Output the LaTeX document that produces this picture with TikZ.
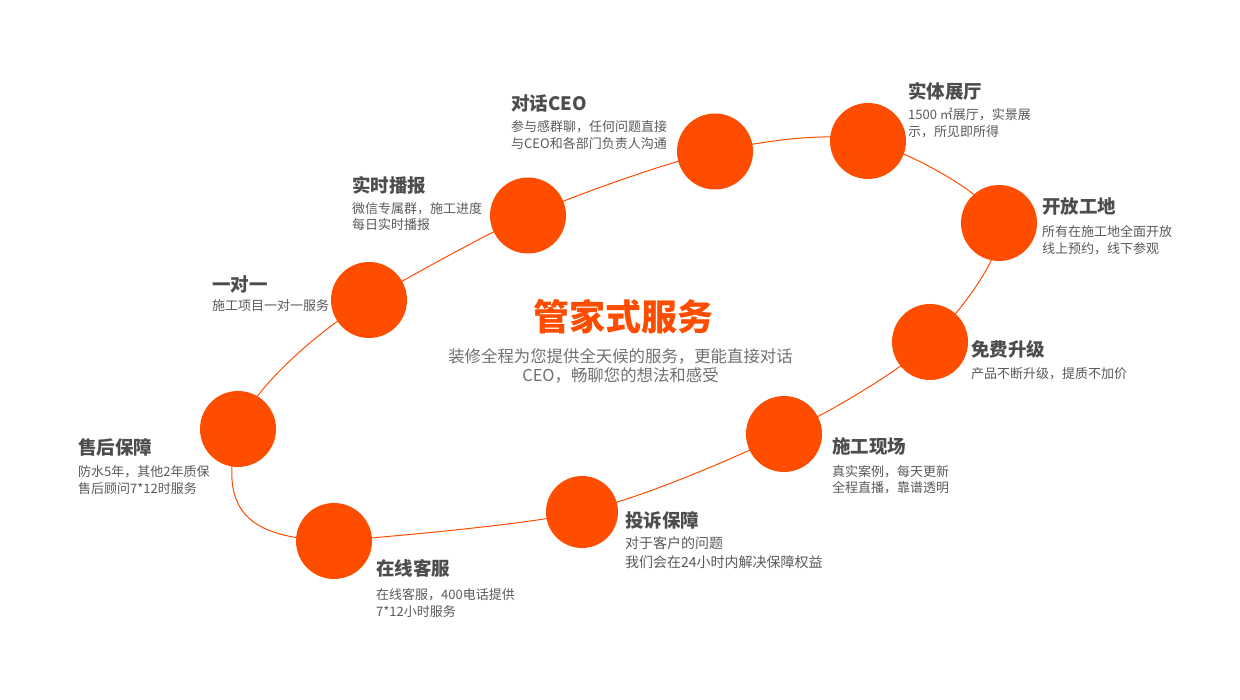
\documentclass[tikz,border=0pt]{standalone}
\usepackage{fontspec}
\setmainfont{Noto Sans CJK SC}
\usetikzlibrary{backgrounds}
\definecolor{dot}{HTML}{FF4D00}
\definecolor{headgray}{HTML}{4D4D4D}
\definecolor{notegray}{HTML}{595959}
\definecolor{subgray}{HTML}{707070}

\begin{document}
\begin{tikzpicture}[x=1pt,y=-1pt,
	spot/.style={circle,fill=dot,inner sep=0pt,minimum size=76pt},
	head/.style={anchor=west,inner sep=0pt,text=headgray,font=\fontsize{18.5}{22}\bfseries},
	note/.style={anchor=north west,inner sep=0pt,align=left,text=notegray,font=\fontsize{13}{17}\selectfont},
	ring/.style={draw=dot,line width=1pt}]
	\useasboundingbox (0,0) rectangle (1240,700);

	\node[spot] (after) at (238,429) {};
	\node[spot] (single) at (369,300) {};
	\node[spot] (live) at (528,215.5) {};
	\node[spot] (ceo) at (715,151.5) {};
	\node[spot] (hall) at (868,141) {};
	\node[spot] (site) at (999,223) {};
	\node[spot] (free) at (930,342) {};
	\node[spot] (scene) at (784,434) {};
	\node[spot,minimum size=72pt] (appeal) at (582,512) {};
	\node[spot] (online) at (334,541) {};

	\begin{scope}[on background layer]
		\draw[ring] plot[smooth] coordinates {(single.center) (live.center) (ceo.center) (hall.center)
			(site.center) (free.center) (scene.center) (appeal.center) (online.center)};
		\draw[ring] (online.center) .. controls (245,538) and (218,510) .. (after.center);
		\draw[ring] (after.center) .. controls (255,385) and (320,330) .. (single.center);
	\end{scope}

	\node[head] (ceo-t) at (511,103.5) {对话CEO};
	\node[note] (ceo-n) at (511,120.5) {参与感群聊，任何问题直接\\与CEO和各部门负责人沟通};
	\node[head] (hall-t) at (908,91.5) {实体展厅};
	\node[note] (hall-n) at (908,107.5) {1500 ㎡展厅，实景展\\示，所见即所得};
	\node[head] (site-t) at (1042,206.5) {开放工地};
	\node[note] (site-n) at (1042,225.5) {所有在施工地全面开放\\线上预约，线下参观};
	\node[head] (free-t) at (971,349) {免费升级};
	\node[note] (free-n) at (971,367.5) {产品不断升级，提质不加价};
	\node[head] (scene-t) at (832,446.5) {施工现场};
	\node[note,font=\fontsize{13}{16}\selectfont] (scene-n) at (832,465.5) {真实案例，每天更新\\全程直播，靠谱透明};
	\node[head] (appeal-t) at (625,520) {投诉保障};
	\node[note,font=\fontsize{14}{19}\selectfont] (appeal-n) at (625,536.5) {对于客户的问题\\我们会在24小时内解决保障权益};
	\node[head] (online-t) at (376,568.5) {在线客服};
	\node[note] (online-n) at (376,588) {在线客服，400电话提供\\7*12小时服务};
	\node[head] (after-t) at (78,447.5) {售后保障};
	\node[note] (after-n) at (78,465.5) {防水5年，其他2年质保\\售后顾问7*12时服务};
	\node[head] (single-t) at (212,284) {一对一};
	\node[note] (single-n) at (212,299.5) {施工项目一对一服务};
	\node[head] (live-t) at (352,185) {实时播报};
	\node[note,font=\fontsize{13}{16}\selectfont] (live-n) at (352,202) {微信专属群，施工进度\\每日实时播报};

	\node[text=dot,font=\fontsize{36}{40}\bfseries,inner sep=0pt] (title) at (623,316.5) {管家式服务};
	\node[text=subgray,font=\fontsize{16.4}{19}\selectfont,align=center,inner sep=0pt] (sub) at (620.5,365.5)
		{装修全程为您提供全天候的服务，更能直接对话\\CEO，畅聊您的想法和感受};
\end{tikzpicture}
\end{document}
